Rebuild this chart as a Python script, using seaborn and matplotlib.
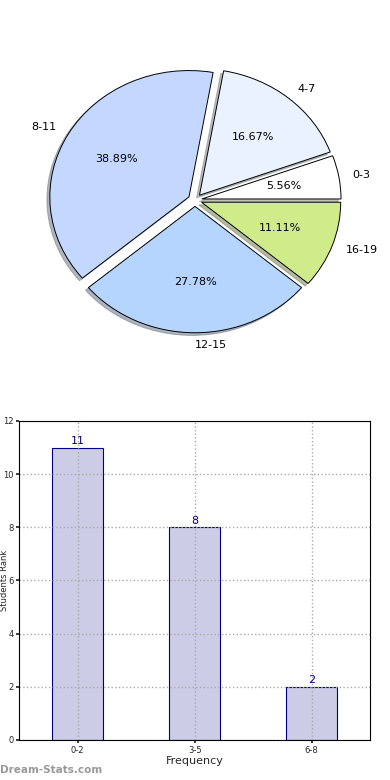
import matplotlib
matplotlib.use("Agg")
import matplotlib.pyplot as plt
import seaborn as sns
import pandas as pd

# Pie data
pie_labels = ["0-3", "4-7", "8-11", "12-15", "16-19"]
pie_values = [1, 3, 7, 5, 2]
pie_colors = ["#FFFFFF", "#EAF2FF", "#C4D8FF", "#B5D5FF", "#CFEB8A"]

# Bar data
bar_labels = ["0-2", "3-5", "6-8"]
bar_values = [11, 8, 2]
y_ticks = [0, 2, 4, 6, 8, 10, 12]

sns.set_theme(style="white")
plt.rcParams['font.family'] = ['DejaVu Sans']

fig = plt.figure(figsize=(3.9, 7.8), dpi=100)

# Pie chart (slightly squashed vertically, as in the reference)
ax1 = fig.add_axes([0.054, 0.541, 0.892, 0.405])
wedges, texts, autotexts = ax1.pie(
    pie_values, labels=pie_labels, colors=pie_colors, startangle=0,
    explode=[0.05] * len(pie_values),
    shadow=dict(ox=-0.015, oy=-0.015, shade=0.5), autopct="%.2f%%",
    pctdistance=0.6, labeldistance=1.1,
    wedgeprops=dict(edgecolor="black", linewidth=0.7),
    textprops=dict(fontsize=8, color="black"))
ax1.set_aspect("auto")

# Bar chart
ax2 = fig.add_axes([0.049, 0.0513, 0.9, 0.409])
df = pd.DataFrame({"Frequency": bar_labels, "Count": bar_values})
sns.barplot(data=df, x="Frequency", y="Count", ax=ax2, width=0.44,
            color="#CCCCE6", edgecolor="#000080", linewidth=0.8, saturation=1)
ax2.set_ylim(0, 12)
ax2.set_xlim(-0.5, 2.5)
ax2.set_yticks(y_ticks)
ax2.tick_params(axis="both", labelsize=6, length=2, pad=2, left=True, bottom=True)
ax2.grid(True, linestyle=":", color="#AAAAAA", linewidth=1)
ax2.set_axisbelow(False)
for s in ax2.spines.values():
    s.set_color("black")
    s.set_linewidth(0.8)
    s.set_zorder(5)
ax2.set_xlabel("Frequency", fontsize=8, labelpad=1)
ax2.set_ylabel("Students Rank", fontsize=6)
ax2.yaxis.set_label_coords(-0.03, 0.5)
for p, v in zip(ax2.patches, bar_values):
    ax2.annotate(str(v), (p.get_x() + p.get_width() / 2, p.get_height()),
                 ha="center", va="bottom", fontsize=8, color="#000080",
                 xytext=(0, 1), textcoords="offset points")

fig.text(0.0, 0.007, "Dream-Stats.com", fontsize=7.5, color="#999999",
         fontweight="bold", ha="left", va="bottom")

fig.savefig("out.png", dpi=100)
